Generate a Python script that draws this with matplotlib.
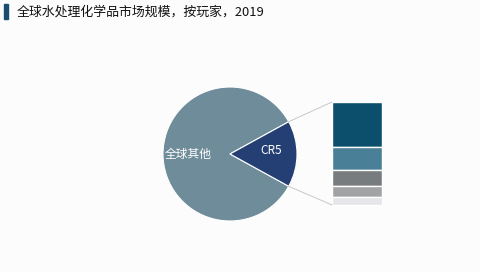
import matplotlib
matplotlib.use('Agg')
import matplotlib.pyplot as plt
import numpy as np

plt.rcParams['font.family'] = ['Noto Sans CJK SC', 'DejaVu Sans']

# data
pie_labels = ['全球其他', 'CR5']
pie_values = [84, 16]
pie_colors = ['#6e8c99', '#243f73']

cr5_values = [7.0, 3.5, 2.5, 1.7, 1.3]   # top to bottom
cr5_colors = ['#0b4f6c', '#4a7f98', '#777d7f', '#a2a3a5', '#e6e6ea']

title = '全球水处理化学品市场规模，按玩家，2019'

fig = plt.figure(figsize=(4.81, 2.72), dpi=100)
fig.patch.set_facecolor('#fcfcfc')
ax = fig.add_axes([0, 0, 1, 1])

# pie
cx, cy, r = 230, 118, 67
start = pie_values[1] / sum(pie_values) * 360 / 2
wedges, _ = ax.pie(pie_values, colors=pie_colors, startangle=start, center=(cx, cy),
                   radius=r, frame=True, wedgeprops={'linewidth': 0.8, 'edgecolor': 'white'})
ax.set_xlim(0, 481)
ax.set_ylim(0, 272)
ax.set_aspect('equal')
ax.axis('off')
ax.text(188, 118, pie_labels[0], color='white', fontsize=8.5, ha='center', va='center')
ax.text(271, 121, pie_labels[1], color='white', fontsize=8.5, ha='center', va='center')

# stacked bar for CR5
bar_x, bar_w = 357, 50
bar_top, bar_bot = 170, 67
scale = (bar_top - bar_bot) / sum(cr5_values)
top = bar_top
for v, c in zip(cr5_values, cr5_colors):
    h = v * scale
    ax.bar(bar_x, h, width=bar_w, bottom=top - h, color=c, edgecolor='white', linewidth=1)
    top -= h

# connection lines
a = np.radians(start)
ax.plot([cx + r * np.cos(a), bar_x - bar_w / 2], [cy + r * np.sin(a), bar_top], color='#c8c8c8', lw=0.7)
ax.plot([cx + r * np.cos(a), bar_x - bar_w / 2], [cy - r * np.sin(a), bar_bot], color='#c8c8c8', lw=0.7)

# title
fig.patches.append(plt.Rectangle((4 / 481, 1 - 19 / 272), 4 / 481, 15 / 272,
                                 transform=fig.transFigure, color='#1a4e6e'))
fig.text(17 / 481, 1 - 12 / 272, title, fontsize=9.3, va='center', ha='left', color='#111111')

fig.savefig('out.png', dpi=100, facecolor=fig.get_facecolor())
